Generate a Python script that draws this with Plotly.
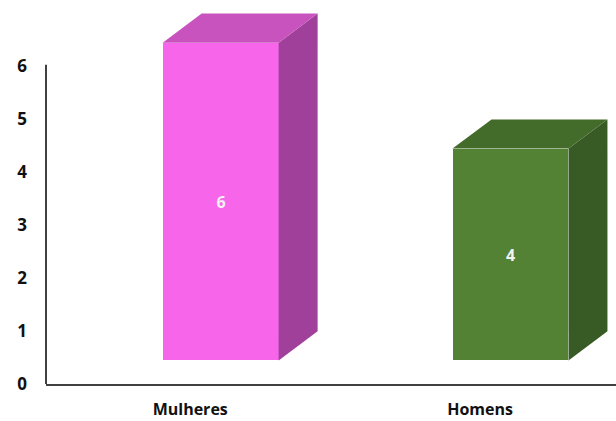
import plotly.graph_objects as go

categories = ["Mulheres", "Homens"]
values = [6, 4]
front_colors = ["#F766EA", "#548235"]
top_colors = ["#C852BE", "#436B2A"]
side_colors = ["#A0409A", "#385A24"]
y_ticks = [0, 1, 2, 3, 4, 5, 6]

# 3D styling constants (axis units)
BASE = 0.445      # floor offset of front face
BAR_W = 0.4       # front face width
SHIFT = 0.105     # front face center offset from category tick
DX = 0.1345       # depth offset in x
DY = 0.549        # depth offset in y

FONT = "Open Sans"

fig = go.Figure()
pos = list(range(len(categories)))
for i, (p, v) in enumerate(zip(pos, values)):
    c = p + SHIFT
    xl, xr = c - BAR_W / 2, c + BAR_W / 2
    top = BASE + v
    # side face
    fig.add_trace(go.Scatter(
        x=[xr, xr, xr + DX, xr + DX, xr], y=[BASE, top, top + DY, BASE + DY, BASE],
        fill="toself", fillcolor=side_colors[i], mode="lines",
        line=dict(width=0, color=side_colors[i]), hoverinfo="skip", showlegend=False))
    # top face
    fig.add_trace(go.Scatter(
        x=[xl, xl + DX, xr + DX, xr, xl], y=[top, top + DY, top + DY, top, top],
        fill="toself", fillcolor=top_colors[i], mode="lines",
        line=dict(width=0, color=top_colors[i]), hoverinfo="skip", showlegend=False))

fig.add_trace(go.Bar(
    x=[p + SHIFT for p in pos], y=values, base=BASE, width=BAR_W,
    marker=dict(color=front_colors, line=dict(width=0)),
    text=[str(v) for v in values], textposition="inside", insidetextanchor="middle",
    textfont=dict(family=FONT, size=16, color="#F2F2F2", weight="bold"), showlegend=False))

fig.add_shape(type="line", xref="paper", yref="y", x0=0, x1=0, y0=0, y1=6.03,
              line=dict(color="#111111", width=1.6))

fig.update_layout(
    width=616, height=421, margin=dict(l=46, r=0, t=8, b=37, autoexpand=False),
    paper_bgcolor="white", plot_bgcolor="white", bargap=0,
    font=dict(family=FONT, color="#111111"),
)
fig.update_xaxes(range=[-0.4976, 1.469], tickvals=pos, ticktext=categories,
                 showgrid=False, zeroline=False, showline=True, linecolor="#404040",
                 linewidth=1.6, ticks="", ticklabelstandoff=10, automargin=False,
                 tickfont=dict(family=FONT, size=16, color="#111111", weight="bold"))
fig.update_yaxes(range=[0, 7.1], tickvals=y_ticks, showgrid=False, zeroline=False,
                 showline=False, ticks="", ticklabelstandoff=18, automargin=False,
                 tickfont=dict(family=FONT, size=17, color="#111111", weight="bold"))

fig.write_html("out.html")
